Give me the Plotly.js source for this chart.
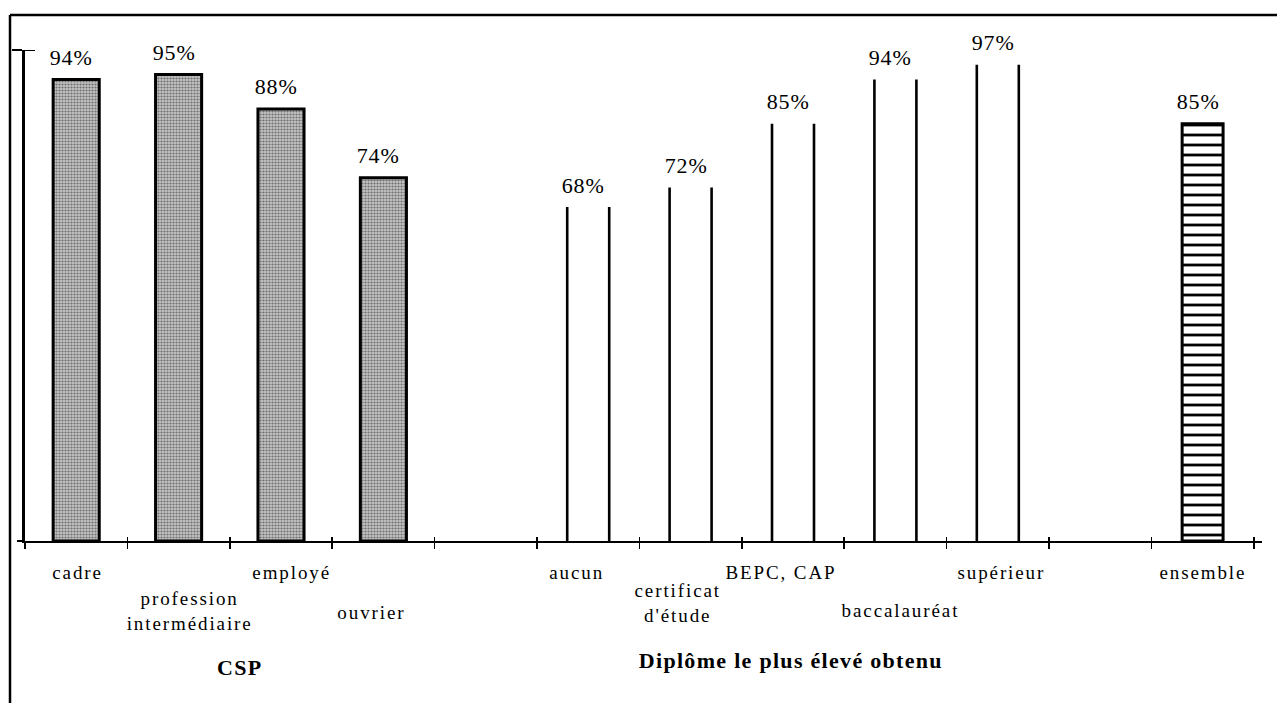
<!DOCTYPE html>
<html>
<head>
<meta charset="utf-8">
<script src="https://cdn.plot.ly/plotly-3.0.1.min.js"></script>
<style>
html,body{margin:0;padding:0;background:#fff;}
#chart{width:1277px;height:703px;}
</style>
</head>
<body>
<div id="chart"></div>
<script>
// ---- data ----
const cspCategories = ['cadre', 'profession<br>intermédiaire', 'employé', 'ouvrier'];
const cspValues = [94, 95, 88, 74];
const diplomeCategories = ['aucun', 'certificat<br>d\'étude', 'BEPC, CAP', 'baccalauréat', 'supérieur'];
const diplomeValues = [68, 72, 85, 94, 97];
const ensembleCategories = ['ensemble'];
const ensembleValues = [85];
const groupTitles = ['CSP', 'Diplôme le plus élevé obtenu'];

// ---- layout helpers (slots on a numeric axis) ----
const cspSlots = cspCategories.map((_, i) => i);
const diplomeSlots = diplomeCategories.map((_, i) => cspCategories.length + 1 + i);
const ensembleSlots = ensembleCategories.map((_, i) => cspCategories.length + diplomeCategories.length + 2 + i);
const nSlots = ensembleSlots[ensembleSlots.length - 1] + 1;

const allCats = cspCategories.concat(diplomeCategories, ensembleCategories);
const allVals = cspValues.concat(diplomeValues, ensembleValues);
const allSlots = cspSlots.concat(diplomeSlots, ensembleSlots);
// vertical offset (px below axis) and horizontal nudge of each category label
const labelDy = [31, 70, 31, 71, 31, 62, 31, 69, 31, 31];
const labelDx = [1, 11, 10, -11, -11, -13, -12, 6, 4, 0];

const serif = 'Liberation Serif, Times New Roman, serif';

// diplôme bars: only the two vertical sides
const half = 0.205;
const dx = [], dy = [];
diplomeSlots.forEach((s, i) => {
  dx.push(s - half, s - half, null, s + half, s + half, null);
  dy.push(0, diplomeValues[i], null, 0, diplomeValues[i], null);
});

const traces = [
  {
    type: 'bar', x: cspSlots, y: cspValues, width: 0.45,
    marker: {
      color: '#b0b0b0',
      pattern: {shape: '.', bgcolor: '#c4c4c4', fgcolor: '#707070', size: 3, solidity: 0.42},
      line: {color: '#000', width: 3}
    },
    hoverinfo: 'skip', showlegend: false
  },
  {
    type: 'scatter', mode: 'lines', x: dx, y: dy,
    line: {color: '#000', width: 2.6}, connectgaps: false,
    hoverinfo: 'skip', showlegend: false
  },
  {
    type: 'bar', x: ensembleSlots, y: ensembleValues, width: 0.4,
    marker: {
      color: '#fff',
      pattern: {shape: '-', bgcolor: '#fff', fgcolor: '#000', size: 10, solidity: 0.28},
      line: {color: '#000', width: 3}
    },
    hoverinfo: 'skip', showlegend: false
  },
  {
    // carries the inner half of the crossing ticks
    type: 'scatter', mode: 'none', x: [-0.5], y: [0], xaxis: 'x2', yaxis: 'y',
    hoverinfo: 'skip', showlegend: false
  }
];

const annotations = [];
// value labels
allSlots.forEach((s, i) => {
  annotations.push({
    x: s, y: allVals[i], xref: 'x', yref: 'y', text: allVals[i] + '%',
    showarrow: false, yanchor: 'middle', xanchor: 'center', yshift: 22, xshift: -5,
    font: {family: serif, size: 22, color: '#000'}
  });
});
// category labels
allSlots.forEach((s, i) => {
  annotations.push({
    x: s, y: 0, xref: 'x', yref: 'paper', text: allCats[i],
    showarrow: false, yanchor: 'middle', xanchor: 'center', yshift: -labelDy[i], xshift: labelDx[i],
    font: {family: serif, size: 19, color: '#000'}
  });
});
// group titles
const cspCenter = 1.6, dipCenter = 6.98;
annotations.push({
  x: cspCenter, y: 0, xref: 'x', yref: 'paper', text: '<b>' + groupTitles[0] + '</b>',
  showarrow: false, yanchor: 'middle', xanchor: 'center', yshift: -126,
  font: {family: serif, size: 22, color: '#000'}
});
annotations.push({
  x: dipCenter, y: 0, xref: 'x', yref: 'paper', text: '<b>' + groupTitles[1] + '</b>',
  showarrow: false, yanchor: 'middle', xanchor: 'center', yshift: -119,
  font: {family: serif, size: 22, color: '#000'}
});

const W = 1277, H = 703, ml = 25, mr = 15, mt = 50, mb = 162;
const pw = W - ml - mr, ph = H - mt - mb;
const px = v => (v - ml) / pw;
const py = v => (H - mb - v) / ph;

const boundaries = [];
for (let k = 0; k <= nSlots; k++) boundaries.push(k - 0.5);
const xRange = [-0.5, nSlots - 0.42];

const layout = {
  width: W, height: H,
  margin: {l: ml, r: mr, t: mt, b: mb, pad: 0},
  paper_bgcolor: '#fff', plot_bgcolor: '#fff',
  bargap: 0,
  xaxis: {
    type: 'linear', range: xRange, fixedrange: true,
    showline: true, linecolor: '#000', linewidth: 2,
    showgrid: false, zeroline: false,
    tickmode: 'array', tickvals: boundaries, ticktext: boundaries.map(() => ''),
    ticks: 'outside', ticklen: 6, tickwidth: 1.5, tickcolor: '#000'
  },
  xaxis2: {
    type: 'linear', range: xRange, fixedrange: true, overlaying: 'x', anchor: 'y', side: 'bottom',
    showline: false, showgrid: false, zeroline: false,
    tickmode: 'array', tickvals: boundaries, ticktext: boundaries.map(() => ''),
    ticks: 'inside', ticklen: 4, tickwidth: 1.5, tickcolor: '#000'
  },
  yaxis: {
    range: [0, 100], fixedrange: true,
    showline: true, linecolor: '#000', linewidth: 3,
    showgrid: false, zeroline: false,
    tickmode: 'array', tickvals: [100], ticktext: [''],
    ticks: 'outside', ticklen: 10, tickwidth: 2, tickcolor: '#000'
  },
  annotations: annotations,
  shapes: [
    {type: 'line', xref: 'paper', yref: 'paper', x0: px(10), x1: px(W + 5), y0: py(15), y1: py(15), line: {color: '#000', width: 2.5}},
    {type: 'line', xref: 'paper', yref: 'paper', x0: px(10), x1: px(10), y0: py(15), y1: py(H + 5), line: {color: '#000', width: 2.5}},
    // right half of the y-axis top tick
    {type: 'line', xref: 'paper', yref: 'y', x0: 0, x1: px(35), y0: 100, y1: 100, line: {color: '#000', width: 2}},
    // small overshoot of the x axis to the left of the y axis
    {type: 'line', xref: 'paper', yref: 'paper', x0: px(17), x1: 0, y0: 0, y1: 0, line: {color: '#000', width: 2}}
  ],
  showlegend: false
};

Plotly.newPlot('chart', traces, layout, {staticPlot: true, displayModeBar: false}).then(() => {
  document.querySelectorAll('.annotation-text').forEach(t => {
    const txt = t.textContent;
    if (/%$/.test(txt)) t.style.letterSpacing = '0.8px';
    else if (txt === groupTitles[0] || txt === groupTitles[1]) t.style.letterSpacing = '1.3px';
    else t.style.letterSpacing = '1.9px';
  });
});
</script>
</body>
</html>
